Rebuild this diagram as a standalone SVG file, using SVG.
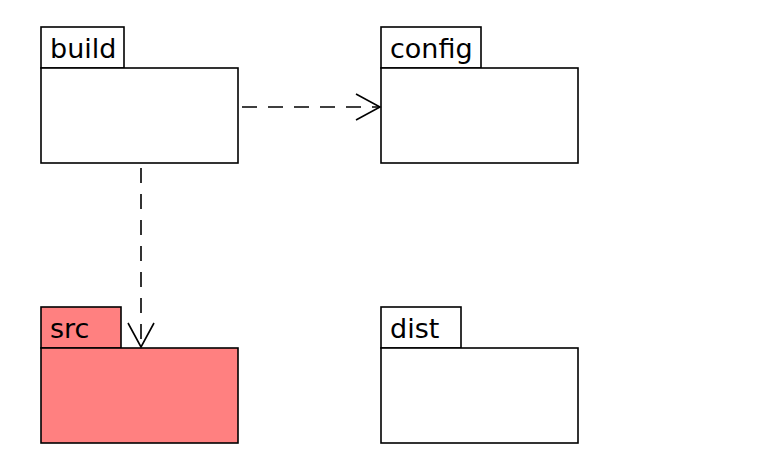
<svg xmlns="http://www.w3.org/2000/svg" width="766" height="462" viewBox="0 0 766 462">
<defs>
<style>
.box{fill:#FFFFFF;stroke:#000000;stroke-width:1.6}
.hot{fill:#FF8080;stroke:#000000;stroke-width:1.6}
.lbl{font-family:"DejaVu Sans",Verdana,sans-serif;font-size:27px;fill:#000000}
.dep{fill:none;stroke:#000000;stroke-width:1.6;stroke-dasharray:15,11}
.head{fill:none;stroke:#000000;stroke-width:1.6}
</style>
</defs>
<rect width="766" height="462" fill="#FFFFFF"/>
<g id="build">
<rect class="box" x="41" y="27" width="83" height="41"/>
<rect class="box" x="41" y="68" width="197" height="95"/>
<text class="lbl" x="50" y="58">build</text>
</g>
<g id="config">
<rect class="box" x="381" y="27" width="100" height="41"/>
<rect class="box" x="381" y="68" width="197" height="95"/>
<text class="lbl" x="390" y="58">config</text>
</g>
<g id="src">
<rect class="hot" x="41" y="307" width="80" height="41"/>
<rect class="hot" x="41" y="348" width="197" height="95"/>
<text class="lbl" x="50" y="338">src</text>
</g>
<g id="dist">
<rect class="box" x="381" y="307" width="80" height="41"/>
<rect class="box" x="381" y="348" width="197" height="95"/>
<text class="lbl" x="390" y="338">dist</text>
</g>
<g id="connectors">
<path class="dep" d="M242,107 L379,107"/>
<path class="head" d="M356,94 L380,107 L356,120"/>
<path class="dep" d="M141,168 L141,346"/>
<path class="head" d="M128,323 L141,347 L154,323"/>
</g>
</svg>
